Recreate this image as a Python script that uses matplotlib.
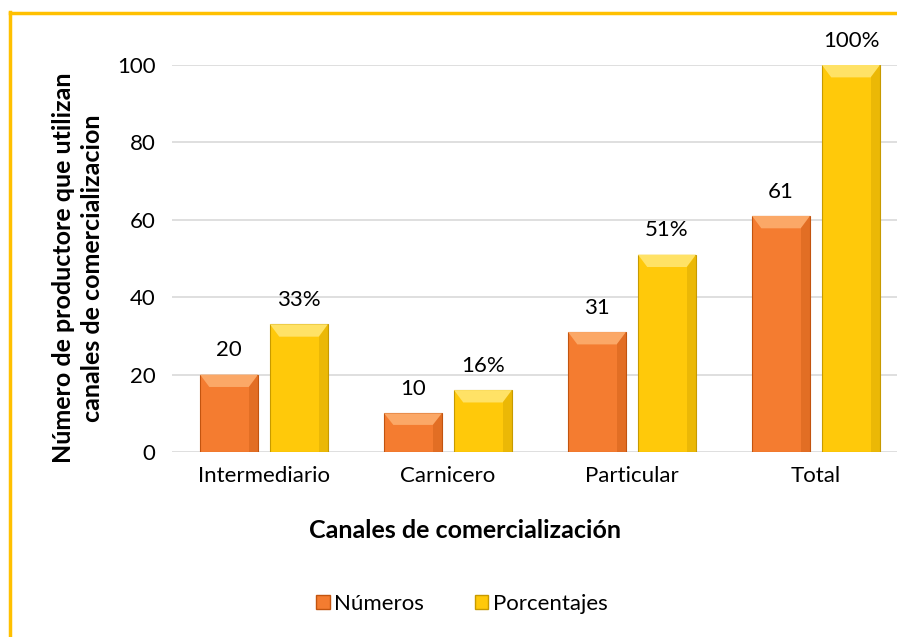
import matplotlib.pyplot as plt
from matplotlib.patches import Rectangle, Polygon
import numpy as np

categories = ["Intermediario", "Carnicero", "Particular", "Total"]
numeros = [20, 10, 31, 61]
porcentajes = [33, 16, 51, 100]
num_labels = ["20", "10", "31", "61"]
pct_labels = ["33%", "16%", "51%", "100%"]

plt.rcParams['font.family'] = ['Lato', 'DejaVu Sans']

W, H = 897, 637
fig = plt.figure(figsize=(W / 100, H / 100), dpi=100)

# orange frame on the left and top (picture is cropped on right/bottom)
fig.add_artist(plt.Line2D([9.5 / W, 9.5 / W], [0, 1 - 12 / H], color='#FFC000', lw=2.5))
fig.add_artist(plt.Line2D([9.5 / W, 1], [1 - 12.5 / H, 1 - 12.5 / H], color='#FFC000', lw=2.5))

# axes: x 172..908 px, y 65..452 px for 0..100
ax = fig.add_axes([172 / W, (H - 452) / H, 736 / W, 387 / H])
ax.set_xlim(-0.5, 3.5)
ax.set_ylim(0, 100)
for s in ax.spines.values():
    s.set_visible(False)
ax.set_yticks(range(0, 101, 20))
ax.yaxis.grid(True, color='#D9D9D9', lw=1.2)
ax.set_axisbelow(True)
ax.tick_params(length=0, labelsize=16, pad=12)
ax.tick_params(axis='x', pad=10)
x = np.arange(len(categories))
ax.set_xticks(x)
ax.set_xticklabels(categories)

bw = 0.315
off = 0.19


def bevel_bar(xc, h, base, light, dark):
    x0 = xc - bw / 2
    ax.add_patch(Rectangle((x0, 0), bw, h, facecolor=base, edgecolor=dark, lw=0.8, zorder=3))
    # top bevel
    dx = bw * 0.16
    dy = min(3.2, h * 0.3)
    ax.add_patch(Polygon([(x0, h), (x0 + bw, h), (x0 + bw - dx, h - dy), (x0 + dx, h - dy)],
                         closed=True, facecolor=light, edgecolor='none', zorder=4))
    # side shading
    ax.add_patch(Polygon([(x0 + bw, h), (x0 + bw, 0), (x0 + bw - dx, 0), (x0 + bw - dx, h - dy)],
                         closed=True, facecolor=dark, alpha=0.35, edgecolor='none', zorder=4))


for i in range(len(categories)):
    bevel_bar(x[i] - off, numeros[i], '#F47C30', '#FBA867', '#C2540F')
    bevel_bar(x[i] + off, porcentajes[i], '#FFC90A', '#FFE266', '#C79A00')
    ax.text(x[i] - off, numeros[i] + 6.3, num_labels[i], ha='center', va='center', fontsize=16)
    ax.text(x[i] + off, porcentajes[i] + 6.3, pct_labels[i], ha='center', va='center', fontsize=16)

fig.text(465 / W, 1 - 530 / H, "Canales de comercialización", ha='center', va='center',
         fontsize=18, fontweight='bold')
fig.text(78 / W, 1 - 268 / H, "Número de productore que utilizan\ncanales de comercializacion",
         ha='center', va='center', rotation=90, fontsize=18, fontweight='bold', linespacing=1.3)

# legend
handles = [Rectangle((0, 0), 1, 1, facecolor='#F47C30', edgecolor='#C2540F'),
           Rectangle((0, 0), 1, 1, facecolor='#FFC90A', edgecolor='#C79A00')]
fig.legend(handles, ["Números", "Porcentajes"], loc='center', bbox_to_anchor=(462 / W, 1 - 604 / H),
           ncol=2, frameon=False, fontsize=16, handlelength=0.6, handleheight=0.6,
           handletextpad=0.2, columnspacing=2.3)

fig.savefig("out.png", dpi=100)
